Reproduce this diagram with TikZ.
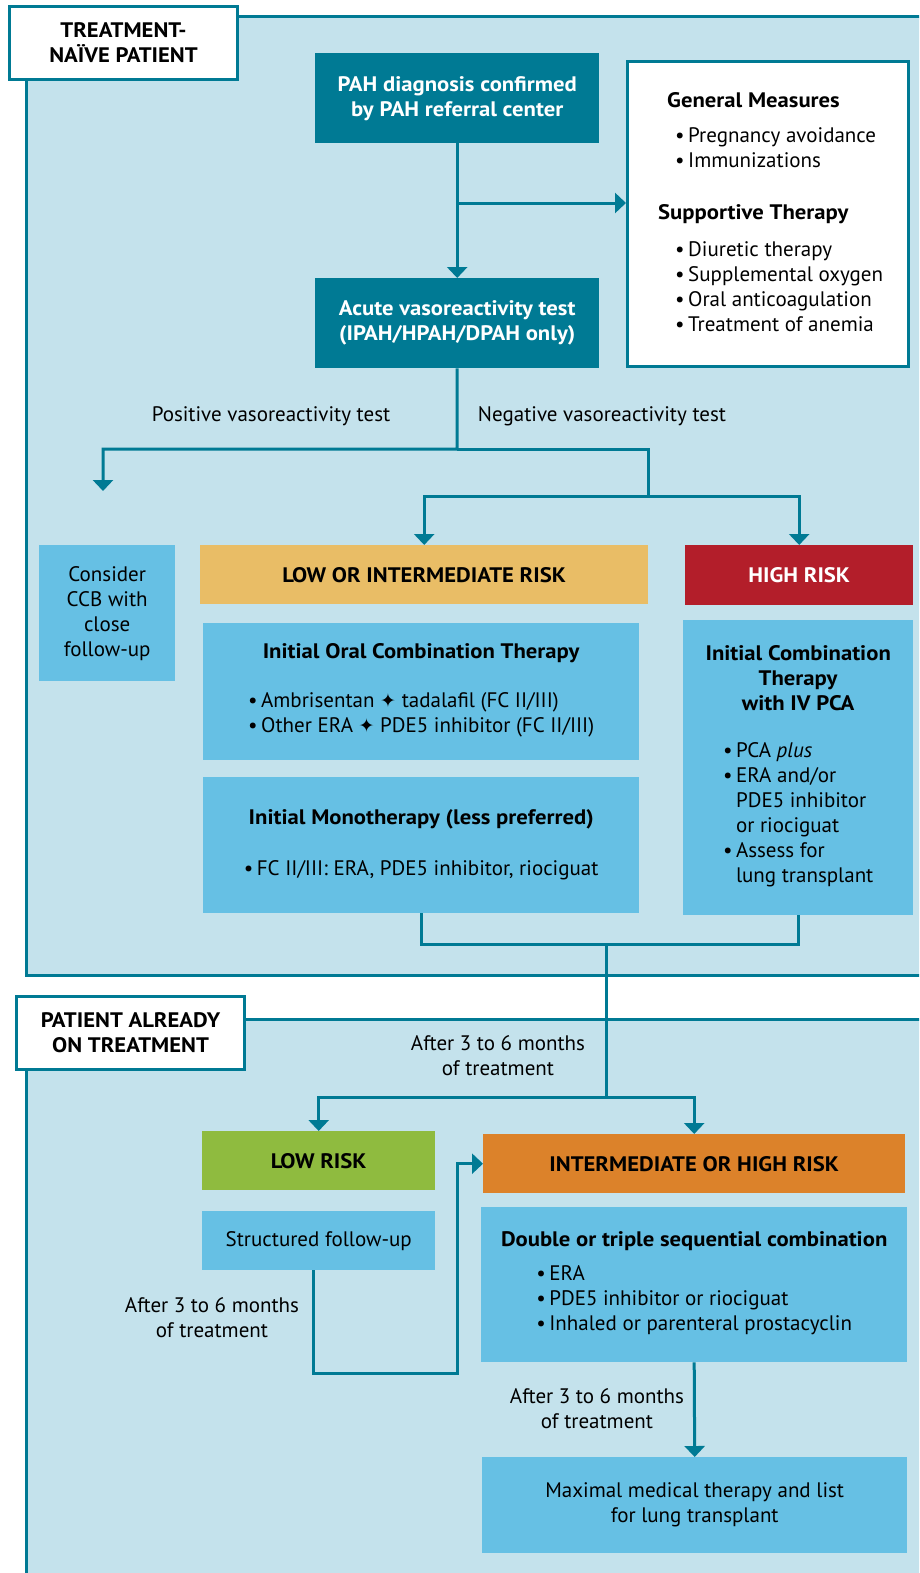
\documentclass[tikz,border=0pt]{standalone}
\usepackage{fontspec}
\setmainfont{PT Sans}[BoldFeatures={FakeStretch=1.08}]
\newfontfamily\starfont{DejaVu Sans}
\usetikzlibrary{arrows.meta, positioning}

\definecolor{pahteal}{RGB}{0,122,148}
\definecolor{panelbg}{RGB}{196,226,236}
\definecolor{boxblue}{RGB}{102,192,228}
\definecolor{riskyellow}{RGB}{233,189,102}
\definecolor{riskred}{RGB}{179,30,42}
\definecolor{riskgreen}{RGB}{143,187,63}
\definecolor{riskorange}{RGB}{220,130,42}

\newcommand{\chartfont}{\fontsize{21}{25}\selectfont}
\newcommand{\plusstar}{{\starfont\fontsize{19}{25}\selectfont ✦}}

\begin{document}
\begin{tikzpicture}[x=1pt, y=-1pt,
        % --- Styles ---
        panel/.style={draw=pahteal, line width=3pt, fill=panelbg},
        tag/.style={draw=pahteal, line width=3pt, fill=white, inner sep=0pt, anchor=north west, align=center, font=\chartfont\bfseries},
        wh/.style 2 args={minimum width=#1pt, minimum height=#2pt},
        darkbox/.style={fill=pahteal, text=white, inner sep=0pt, anchor=north west, align=center, font=\chartfont\bfseries},
        infobox/.style={fill=boxblue, inner sep=0pt, anchor=north west, align=center, font=\chartfont},
        riskbox/.style={inner sep=0pt, anchor=north west, align=center, font=\chartfont\bfseries},
        note/.style={inner sep=0pt, align=center, font=\chartfont},
        % --- Line Styles ---
        line/.style={draw=pahteal, line width=3pt},
        flow/.style={line, -{Triangle[width=20pt, length=11pt]}}
    ]
        \useasboundingbox (0,0) rectangle (919,1573);
        \clip (0,0) rectangle (919,1573);

        % --- Panels ---
        \draw[panel] (26,17) rectangle (940,975);
        \draw[panel] (26,1019) rectangle (940,1600);

        % --- Treatment-naive part ---
        \node[darkbox, wh={284}{90}] (pah) at (315,53) {PAH diagnosis confirmed\\by PAH referral center};
        \node[draw=pahteal, line width=3pt, fill=white, anchor=north west, wh={281}{305}] (gen) at (626,60) {};
        \node[anchor=north west, inner sep=0pt, font=\chartfont] (genlist) at (658,89.5)
            {\begin{tabular}{@{}l@{}}
             \hspace*{9pt}\textbf{General Measures}\\[10pt]
             \hspace*{17pt}•\,Pregnancy avoidance\\
             \hspace*{17pt}•\,Immunizations\\[27pt]
             \textbf{Supportive Therapy}\\[12pt]
             \hspace*{17pt}•\,Diuretic therapy\\
             \hspace*{17pt}•\,Supplemental oxygen\\
             \hspace*{17pt}•\,Oral anticoagulation\\
             \hspace*{17pt}•\,Treatment of anemia
             \end{tabular}};
        \node[darkbox, wh={284}{90}] (acute) at (315,278) {Acute vasoreactivity test\\(IPAH/HPAH/DPAH only)};

        \node[note] (postxt) at (271,416) {Positive vasoreactivity test};
        \node[note] (negtxt) at (602,416) {Negative vasoreactivity test};

        \node[infobox, wh={136}{136}] (ccb) at (39,545) {Consider\\CCB with\\close\\follow-up};
        \node[riskbox, fill=riskyellow, wh={448}{59}] (lowint) at (200,545) {LOW OR INTERMEDIATE RISK};
        \node[riskbox, fill=riskred, text=white, wh={228}{60}] (high) at (685,545) {HIGH RISK};

        \node[infobox, wh={436}{137}] (oral) at (203,623)
            {\textbf{Initial Oral Combination Therapy}\\[26pt]
             \begin{tabular}{@{}l@{}}
             •\,Ambrisentan \plusstar\ tadalafil (FC II/III)\\
             •\,Other ERA \plusstar\ PDE5 inhibitor (FC II/III)
             \end{tabular}};
        \node[infobox, wh={436}{136}] (mono) at (203,777)
            {\textbf{Initial Monotherapy (less preferred)}\\[26pt]
             •\,FC II/III: ERA, PDE5 inhibitor, riociguat};
        \node[infobox, wh={230}{295}] (highrx) at (683,620)
            {\textbf{Initial Combination}\\\textbf{Therapy}\\\textbf{with IV PCA}\\[28pt]
             \begin{tabular}{@{}r@{\,}l@{}}
             • & PCA \textit{plus}\\
             • & ERA and/or\\
               & PDE5 inhibitor\\
               & or riociguat\\
             • & Assess for\\
               & lung transplant
             \end{tabular}};

        % --- Patient already on treatment ---
        \node[note] (aftertop) at (498,1056) {After 3 to 6 months\\of treatment};
        \node[riskbox, fill=riskgreen, wh={233}{59}] (lowrisk) at (202,1131) {LOW RISK};
        \node[infobox, wh={233}{59}] (follow) at (202,1211) {Structured follow-up};
        \node[note] (afterleft) at (212,1318) {After 3 to 6 months\\of treatment};
        \node[riskbox, fill=riskorange, wh={422}{59}] (interhigh) at (483,1134) {INTERMEDIATE OR HIGH RISK};
        \node[infobox, wh={426}{155}] (double) at (481,1207)
            {\textbf{Double or triple sequential combination}\\[12pt]
             \begin{tabular}{@{}l@{}}
             •\,ERA\\
             •\,PDE5 inhibitor or riociguat\\
             •\,Inhaled or parenteral prostacyclin
             \end{tabular}};
        \node[note] (afterright) at (597,1409) {After 3 to 6 months\\of treatment};
        \node[infobox, wh={425}{96}] (maxrx) at (482,1457) {Maximal medical therapy and list\\for lung transplant};

        % --- Helper points ---
        \coordinate (genbr) at (457,203);
        \coordinate (vsplit) at (457,449);
        \coordinate (ccbtip) at (103,491);
        \coordinate (riskbar) at (648,496);
        \coordinate (join) at (606,944);
        \coordinate (fork) at (606,1097);
        \coordinate (loopc) at (457,1373);

        % --- Connections ---
        \draw[flow] (pah.south) -- (acute.north);
        \draw[flow] (genbr) -- (genbr -| gen.west);
        \draw[flow] (acute.south) -- (vsplit) -| (ccbtip);
        \draw[line] (vsplit) -| (riskbar);
        \draw[flow] (riskbar) -| (lowint.north);
        \draw[flow] (riskbar) -| (high.north);
        \draw[line] (mono.south) |- (join) -| (highrx.south);
        \draw[line] (join) -- (fork);
        \draw[flow] (fork) -| (lowrisk.north);
        \draw[flow] (fork) -| (interhigh.north);
        \draw[flow] ([xshift=-5pt]follow.south) |- (loopc) |- (interhigh.west);
        \draw[flow] (double.south) -- (maxrx.north);

        % --- Panel tags ---
        \node[tag, wh={228}{73}] (naivetag) at (8,5) {TREATMENT-\\NAÏVE PATIENT};
        \node[tag, wh={228}{73}] (ontag) at (15,995) {PATIENT ALREADY\\ON TREATMENT};
    \end{tikzpicture}
\end{document}
